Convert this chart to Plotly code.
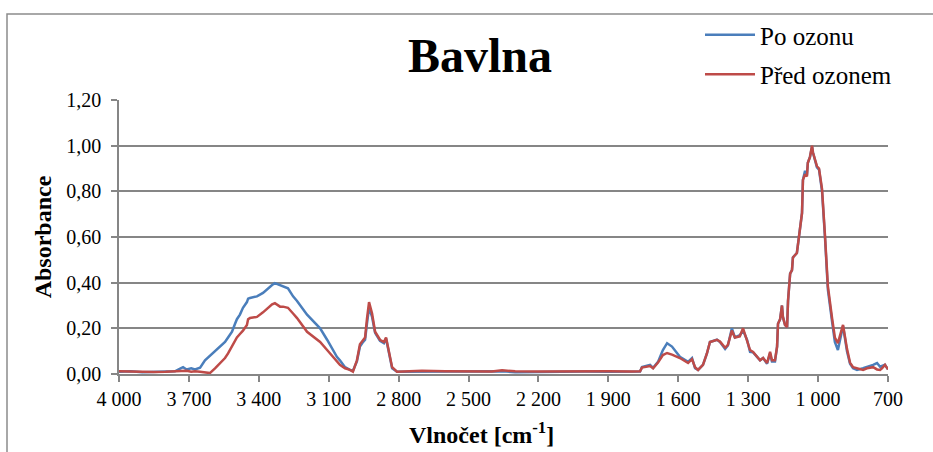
import plotly.graph_objects as go

# FTIR spectrum of cotton (Bavlna), before and after ozone treatment
wavenumber = [
    4000, 3950, 3900, 3850, 3800, 3760, 3740, 3725, 3710, 3690, 3674, 3652, 3631, 3610,
    3588, 3575, 3545, 3532, 3515, 3502, 3494, 3481, 3468, 3451, 3446, 3438, 3408, 3382,
    3361, 3343, 3331, 3309, 3296, 3275, 3253, 3236, 3193, 3150, 3137, 3107, 3095, 3065,
    3052, 3030, 3009, 2996, 2979, 2966, 2953, 2944, 2936, 2927, 2914, 2901, 2880, 2863,
    2854, 2846, 2828, 2807, 2750, 2700, 2600, 2500, 2400, 2356, 2300, 2200, 2100, 2000,
    1900, 1800, 1764, 1756, 1721, 1708, 1687, 1666, 1648, 1627, 1593, 1558, 1541, 1528,
    1515, 1494, 1477, 1464, 1434, 1421, 1399, 1387, 1370, 1357, 1336, 1322, 1305, 1292,
    1279, 1262, 1249, 1236, 1219, 1206, 1198, 1185, 1176, 1172, 1163, 1155, 1151, 1142,
    1133, 1129, 1120, 1112, 1108, 1091, 1086, 1078, 1069, 1065, 1056, 1048, 1044, 1035,
    1026, 1022, 1013, 1005, 996, 983, 970, 958, 940, 928, 915, 905, 893, 876, 863, 850,
    833, 807, 790, 764, 747, 734, 726, 713, 700,
]

po_ozonu = [
    0.010, 0.012, 0.008, 0.010, 0.011, 0.012, 0.022, 0.030, 0.020, 0.025, 0.020, 0.028, 0.060, 0.080,
    0.097, 0.110, 0.140, 0.160, 0.185, 0.220, 0.240, 0.260, 0.290, 0.315, 0.330, 0.333, 0.340, 0.355,
    0.375, 0.390, 0.398, 0.390, 0.385, 0.375, 0.340, 0.320, 0.260, 0.215, 0.200, 0.150, 0.130, 0.075,
    0.060, 0.030, 0.018, 0.014, 0.055, 0.120, 0.140, 0.150, 0.220, 0.290, 0.250, 0.180, 0.145, 0.135,
    0.155, 0.115, 0.025, 0.010, 0.010, 0.012, 0.011, 0.013, 0.010, 0.012, 0.008, 0.010, 0.012, 0.011,
    0.010, 0.010, 0.011, 0.030, 0.040, 0.027, 0.053, 0.105, 0.135, 0.120, 0.075, 0.053, 0.070, 0.026,
    0.018, 0.040, 0.090, 0.140, 0.150, 0.140, 0.110, 0.125, 0.200, 0.160, 0.170, 0.190, 0.150, 0.097,
    0.095, 0.075, 0.060, 0.070, 0.045, 0.090, 0.055, 0.055, 0.120, 0.220, 0.240, 0.300, 0.250, 0.215,
    0.205, 0.320, 0.440, 0.455, 0.510, 0.530, 0.575, 0.620, 0.705, 0.850, 0.890, 0.870, 0.925, 0.950,
    0.995, 0.970, 0.940, 0.905, 0.895, 0.800, 0.590, 0.370, 0.230, 0.140, 0.105, 0.150, 0.210, 0.100,
    0.045, 0.025, 0.018, 0.025, 0.030, 0.040, 0.048, 0.032, 0.035, 0.040, 0.020,
]

pred_ozonem = [
    0.012, 0.010, 0.011, 0.009, 0.010, 0.011, 0.013, 0.012, 0.014, 0.010, 0.012, 0.010, 0.006, 0.004,
    0.025, 0.040, 0.070, 0.090, 0.120, 0.140, 0.160, 0.175, 0.190, 0.215, 0.240, 0.245, 0.250, 0.270,
    0.290, 0.305, 0.310, 0.295, 0.295, 0.290, 0.265, 0.245, 0.185, 0.150, 0.140, 0.105, 0.090, 0.055,
    0.040, 0.025, 0.018, 0.010, 0.060, 0.130, 0.150, 0.160, 0.240, 0.315, 0.265, 0.185, 0.150, 0.140,
    0.160, 0.120, 0.030, 0.010, 0.012, 0.014, 0.012, 0.012, 0.011, 0.016, 0.012, 0.011, 0.012, 0.012,
    0.012, 0.011, 0.012, 0.028, 0.035, 0.025, 0.050, 0.083, 0.092, 0.085, 0.070, 0.048, 0.065, 0.030,
    0.018, 0.040, 0.090, 0.140, 0.150, 0.142, 0.115, 0.128, 0.190, 0.160, 0.165, 0.200, 0.150, 0.105,
    0.097, 0.075, 0.060, 0.070, 0.048, 0.097, 0.060, 0.060, 0.120, 0.220, 0.240, 0.300, 0.250, 0.215,
    0.205, 0.320, 0.440, 0.455, 0.510, 0.530, 0.575, 0.620, 0.705, 0.850, 0.875, 0.865, 0.925, 0.950,
    1.000, 0.970, 0.940, 0.910, 0.900, 0.810, 0.600, 0.385, 0.245, 0.160, 0.135, 0.170, 0.215, 0.110,
    0.050, 0.030, 0.026, 0.018, 0.025, 0.030, 0.020, 0.018, 0.025, 0.040, 0.020,
]

x_tick_values = [4000, 3700, 3400, 3100, 2800, 2500, 2200, 1900, 1600, 1300, 1000, 700]
x_tick_labels = ["4\u00a0000", "3\u00a0700", "3\u00a0400", "3\u00a0100", "2\u00a0800", "2\u00a0500",
                 "2\u00a0200", "1\u00a0900", "1\u00a0600", "1\u00a0300", "1\u00a0000", "700"]
y_tick_values = [0.0, 0.2, 0.4, 0.6, 0.8, 1.0, 1.2]
y_tick_labels = ["0,00", "0,20", "0,40", "0,60", "0,80", "1,00", "1,20"]

SERIF = "Liberation Serif"
GRID = "#868686"

# plot area in pixels: x 119..888, y 100..374
PLOT_L, PLOT_W, PLOT_B, PLOT_H = 119, 769, 374, 274


def px_x(px):
    return (px - PLOT_L) / PLOT_W


def px_y(py):
    return (PLOT_B - py) / PLOT_H


fig = go.Figure()
fig.add_trace(go.Scatter(x=wavenumber, y=po_ozonu, mode="lines", name="Po ozonu",
                         line=dict(color="#4A7EBB", width=2.5), legendgroup="a"))
fig.add_trace(go.Scatter(x=wavenumber, y=pred_ozonem, mode="lines", name="Před ozonem",
                         line=dict(color="#BE4B48", width=2.5), legendgroup="b"))

fig.update_layout(
    width=933, height=452,
    margin=dict(l=119, r=45, t=100, b=78),
    paper_bgcolor="white", plot_bgcolor="white",
    font=dict(family=SERIF, size=20, color="black"),
    title=dict(text="<b>Bavlna</b>", font=dict(size=48, family=SERIF, color="black"),
               x=480 / 933, xanchor="center", y=1 - 55 / 452, yanchor="middle"),
    showlegend=True,
    legend=dict(x=px_x(700), xanchor="left", y=px_y(12), yanchor="top",
                font=dict(size=25, family=SERIF, color="black"), bgcolor="rgba(0,0,0,0)",
                tracegroupgap=4, itemwidth=50),
    xaxis=dict(
        range=[4000, 700], tickmode="array", tickvals=x_tick_values, ticktext=x_tick_labels,
        showgrid=False, zeroline=False, showline=True, linecolor=GRID, linewidth=1.5,
        ticks="outside", ticklen=6, tickcolor=GRID, tickwidth=1.5,
        tickfont=dict(size=20, family=SERIF, color="black"),
    ),
    yaxis=dict(
        range=[0, 1.2], tickmode="array", tickvals=y_tick_values, ticktext=y_tick_labels,
        showgrid=True, gridcolor=GRID, gridwidth=1.5, zeroline=False,
        showline=True, linecolor=GRID, linewidth=1.5,
        ticks="outside", ticklen=6, tickcolor=GRID, tickwidth=1.5,
        ticklabelstandoff=6,
        tickfont=dict(size=20, family=SERIF, color="black"),
        title=dict(text="<b>Absorbance</b>", font=dict(size=24, family=SERIF, color="black"),
                   standoff=8),
    ),
    annotations=[dict(text="<b>Vlnočet [cm<sup>-1</sup>]</b>", xref="paper", yref="paper",
                      x=px_x(481), y=px_y(433), xanchor="center", yanchor="middle", showarrow=False,
                      font=dict(size=24, family=SERIF, color="black"))],
    shapes=[dict(type="rect", xref="paper", yref="paper",
                 x0=px_x(7), x1=px_x(960), y0=px_y(470), y1=px_y(14),
                 line=dict(color="#8C8C8C", width=1.5), fillcolor="rgba(0,0,0,0)", layer="below")],
)

fig.write_html("out.html")
